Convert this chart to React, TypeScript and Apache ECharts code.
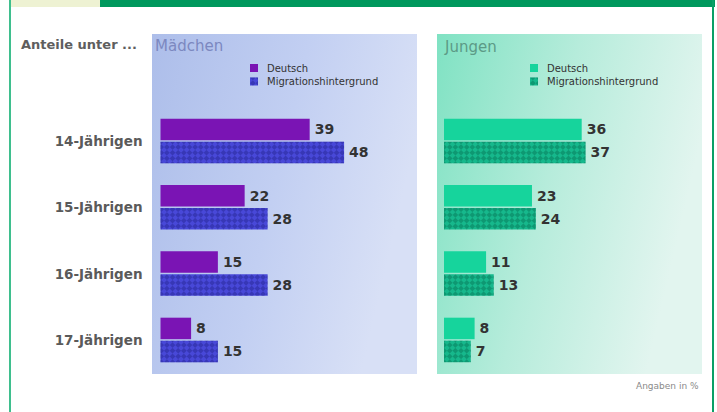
import React, { useEffect, useRef } from "react";
import * as echarts from "echarts";

const categories = ["14-Jährigen", "15-Jährigen", "16-Jährigen", "17-Jährigen"];
const maedchenDeutsch = [39, 22, 15, 8];
const maedchenMigration = [48, 28, 28, 15];
const jungenDeutsch = [36, 23, 11, 8];
const jungenMigration = [37, 24, 13, 7];
const legendNames = ["Deutsch", "Migrationshintergrund"];

const FONT = "DejaVu Sans";

export default function App() {
  const ref = useRef<HTMLDivElement>(null);
  useEffect(() => {
    if (!ref.current) return;
    const chart = echarts.init(ref.current, undefined, { renderer: "svg" });

    const decal = (c: string) => ({
      symbol: "rect",
      symbolSize: 1,
      color: c,
      dashArrayX: [[4, 4], [0, 4, 4, 0]],
      dashArrayY: [4, 0],
      rotation: Math.PI / 4,
    });

    const label = {
      show: true,
      position: "right",
      distance: 5,
      fontFamily: FONT,
      fontWeight: "bold",
      fontSize: 14,
      color: "#333",
    };

    const mkSeries = (name: string, data: number[], idx: number, color: string, dec?: any) => ({
      type: "bar",
      name,
      data,
      xAxisIndex: idx,
      yAxisIndex: idx,
      barWidth: 21.5,
      barGap: "7%",
      itemStyle: dec ? { color, decal: dec } : { color },
      label,
    });

    const legendCommon = {
      orient: "vertical",
      icon: "rect",
      itemWidth: 8,
      itemHeight: 8,
      itemGap: 1.5,
      selectedMode: false,
      textStyle: {
        fontFamily: FONT,
        fontSize: 10,
        lineHeight: 12,
        color: "#333",
        padding: [0, 0, 0, 4],
      },
      formatter: (n: string) => n.replace(/^(Mädchen|Jungen) /, ""),
    };

    const axisX = (i: number) => ({
      type: "value",
      gridIndex: i,
      min: 0,
      max: 60,
      show: false,
    });
    const axisY = (i: number, showLabel: boolean) => ({
      type: "category",
      gridIndex: i,
      data: categories,
      inverse: true,
      axisLine: { show: false },
      axisTick: { show: false },
      splitLine: { show: false },
      axisLabel: {
        show: showLabel,
        margin: 18,
        fontFamily: FONT,
        fontWeight: "bold",
        fontSize: 13.5,
        color: "#5a5a5a",
      },
    });

    chart.setOption({
      animation: false,
      backgroundColor: "#ffffff",
      graphic: [
        { type: "rect", z: 0, shape: { x: 10, y: 0, width: 90, height: 7 }, style: { fill: "#eef2d3" } },
        { type: "rect", z: 0, shape: { x: 100, y: 0, width: 615, height: 7 }, style: { fill: "#00985d" } },
        { type: "rect", z: 0, shape: { x: 9, y: 0, width: 2, height: 412 }, style: { fill: "#3fbf8e" } },
        { type: "rect", z: 0, shape: { x: 712, y: 0, width: 2, height: 412 }, style: { fill: "#0a9f66" } },
        {
          type: "rect",
          z: 0,
          shape: { x: 152, y: 34, width: 265, height: 340 },
          style: {
            fill: new echarts.graphic.LinearGradient(0, 0, 1, 0.3, [
              { offset: 0, color: "#adbeea" },
              { offset: 0.55, color: "#c2cff2" },
              { offset: 1, color: "#d8e0f6" },
            ]),
          },
        },
        {
          type: "rect",
          z: 0,
          shape: { x: 437, y: 34, width: 265, height: 340 },
          style: {
            fill: new echarts.graphic.LinearGradient(0, 0, 1, 0.3, [
              { offset: 0, color: "#80e2c3" },
              { offset: 0.5, color: "#b6ecdb" },
              { offset: 1, color: "#e2f5ef" },
            ]),
          },
        },
        {
          type: "text",
          z: 5,
          left: 21,
          top: 38,
          style: { text: "Anteile unter ...", fontFamily: FONT, fontWeight: "bold", fontSize: 13, fill: "#5e5e5e" },
        },
        {
          type: "text",
          z: 5,
          left: 155,
          top: 38,
          style: { text: "Mädchen", fontFamily: FONT, fontSize: 15, fill: "#7c88c0" },
        },
        {
          type: "text",
          z: 5,
          left: 445,
          top: 39,
          style: { text: "Jungen", fontFamily: FONT, fontSize: 15, fill: "#5c9a86" },
        },
        {
          type: "text",
          z: 5,
          left: 636,
          top: 381,
          style: { text: "Angaben in %", fontFamily: FONT, fontSize: 9, fill: "#8a8a8a" },
        },
      ],
      legend: [
        {
          ...legendCommon,
          left: 245,
          top: 57,
          data: ["Mädchen Deutsch", "Mädchen Migrationshintergrund"],
        },
        {
          ...legendCommon,
          left: 525,
          top: 57,
          data: ["Jungen Deutsch", "Jungen Migrationshintergrund"],
        },
      ],
      grid: [
        { left: 160.5, top: 107.8, width: 229.5, height: 265.3, containLabel: false },
        { left: 444, top: 107.8, width: 229.5, height: 265.3, containLabel: false },
      ],
      xAxis: [axisX(0), axisX(1)],
      yAxis: [axisY(0, true), axisY(1, false)],
      series: [
        mkSeries("Mädchen " + legendNames[0], maedchenDeutsch, 0, "#7a14b4"),
        mkSeries("Mädchen " + legendNames[1], maedchenMigration, 0, "#4848d8", decal("rgba(30,30,130,0.4)")),
        mkSeries("Jungen " + legendNames[0], jungenDeutsch, 1, "#16d49c"),
        mkSeries("Jungen " + legendNames[1], jungenMigration, 1, "#16b88c", decal("rgba(0,90,65,0.35)")),
      ],
    });

    return () => chart.dispose();
  }, []);

  return (
    <div
      ref={ref}
      style={{ position: "absolute", left: 0, top: 0, width: 717, height: 412 }}
    />
  );
}
